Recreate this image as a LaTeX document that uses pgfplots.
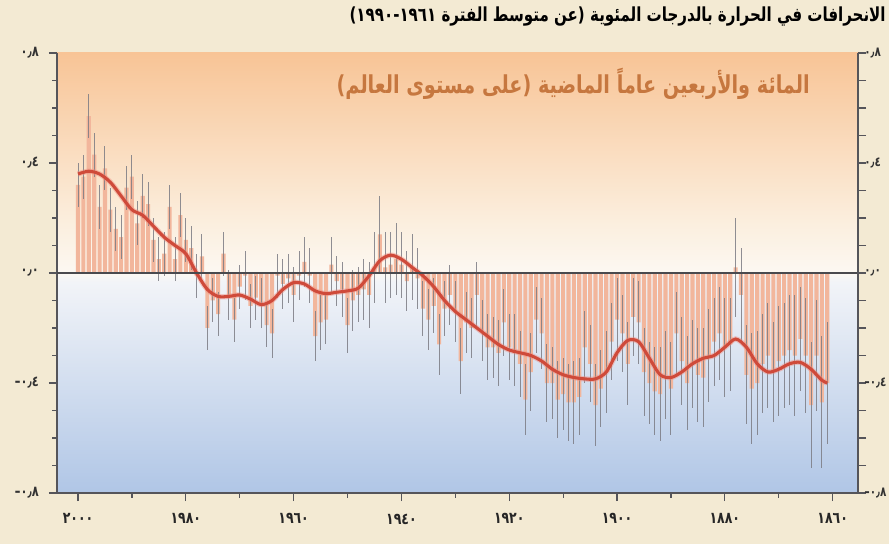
\documentclass[border=0pt]{standalone}
\usepackage{fontspec}
\usepackage{pgfplots}
\usepackage{pgfplotstable}
\pgfplotsset{compat=1.18}
\TeXXeTstate=1
\newfontfamily\arabicfont[Script=Arabic,FakeStretch=0.78]{DejaVu Sans}
\newfontfamily\latinfont{DejaVu Sans}
\newcommand{\negsign}{{\latinfont\bfseries -}}
\definecolor{pagebg}{HTML}{F3EAD3}
\definecolor{bgorange}{HTML}{F8C496}
\definecolor{bgcream}{HTML}{FBEEDD}
\definecolor{bgwhitet}{HTML}{FCF8F2}
\definecolor{bgwhiteb}{HTML}{F2F4F8}
\definecolor{bgblue}{HTML}{B0C6E6}
\definecolor{barcol}{HTML}{F2B69C}
\definecolor{whisk}{HTML}{7C7C84}
\definecolor{curvecol}{HTML}{CF4A3A}
\definecolor{halo}{HTML}{F08C80}
\definecolor{zerocol}{HTML}{4A4A4E}
\definecolor{axcol}{HTML}{55555A}
\definecolor{subtitle}{HTML}{C6773F}
\pgfdeclareverticalshading{plotbg}{100bp}{color(0bp)=(bgblue); color(25bp)=(bgblue); color(49bp)=(bgwhiteb); color(50bp)=(bgwhitet); color(56bp)=(bgcream); color(75bp)=(bgorange); color(100bp)=(bgorange)}

\pgfplotstableread{
year val err
1861 -0.40 0.22
1862 -0.47 0.24
1863 -0.30 0.20
1864 -0.48 0.23
1865 -0.30 0.21
1866 -0.24 0.19
1867 -0.30 0.22
1868 -0.28 0.20
1869 -0.30 0.19
1870 -0.32 0.20
1871 -0.36 0.18
1872 -0.30 0.19
1873 -0.33 0.18
1874 -0.40 0.19
1875 -0.42 0.20
1876 -0.37 0.18
1877 -0.08 0.17
1878 0.02 0.18
1879 -0.26 0.17
1880 -0.27 0.18
1881 -0.22 0.17
1882 -0.25 0.16
1883 -0.30 0.17
1884 -0.38 0.18
1885 -0.37 0.17
1886 -0.33 0.16
1887 -0.40 0.17
1888 -0.32 0.16
1889 -0.22 0.15
1890 -0.42 0.17
1891 -0.37 0.16
1892 -0.44 0.17
1893 -0.43 0.16
1894 -0.40 0.15
1895 -0.36 0.16
1896 -0.18 0.15
1897 -0.16 0.14
1898 -0.33 0.15
1899 -0.22 0.14
1900 -0.17 0.15
1901 -0.25 0.14
1902 -0.36 0.15
1903 -0.42 0.14
1904 -0.48 0.15
1905 -0.33 0.14
1906 -0.27 0.13
1907 -0.45 0.14
1908 -0.47 0.15
1909 -0.47 0.14
1910 -0.44 0.13
1911 -0.46 0.14
1912 -0.40 0.13
1913 -0.40 0.14
1914 -0.22 0.13
1915 -0.17 0.12
1916 -0.36 0.14
1917 -0.46 0.13
1918 -0.33 0.12
1919 -0.28 0.13
1920 -0.27 0.12
1921 -0.18 0.12
1922 -0.29 0.12
1923 -0.27 0.11
1924 -0.27 0.12
1925 -0.21 0.11
1926 -0.08 0.12
1927 -0.20 0.11
1928 -0.18 0.11
1929 -0.32 0.12
1930 -0.14 0.11
1931 -0.08 0.11
1932 -0.13 0.10
1933 -0.26 0.11
1934 -0.12 0.10
1935 -0.17 0.11
1936 -0.13 0.10
1937 -0.02 0.11
1938 0.02 0.12
1939 -0.03 0.11
1940 0.03 0.12
1941 0.05 0.13
1942 0.03 0.12
1943 0.02 0.13
1944 0.14 0.14
1945 0.02 0.13
1946 -0.08 0.12
1947 -0.06 0.11
1948 -0.08 0.10
1949 -0.10 0.11
1950 -0.19 0.10
1951 -0.06 0.10
1952 -0.03 0.09
1953 0.03 0.10
1954 -0.17 0.09
1955 -0.18 0.10
1956 -0.23 0.09
1957 -0.01 0.10
1958 0.04 0.09
1959 -0.01 0.09
1960 -0.08 0.10
1961 -0.02 0.09
1962 -0.04 0.09
1963 -0.01 0.08
1964 -0.22 0.09
1965 -0.19 0.08
1966 -0.11 0.09
1967 -0.09 0.08
1968 -0.12 0.08
1969 -0.01 0.09
1970 -0.05 0.08
1971 -0.17 0.08
1972 -0.08 0.09
1973 0.07 0.08
1974 -0.15 0.08
1975 -0.10 0.08
1976 -0.20 0.08
1977 0.06 0.08
1978 -0.01 0.08
1979 0.09 0.08
1980 0.12 0.08
1981 0.21 0.08
1982 0.05 0.08
1983 0.24 0.08
1984 0.07 0.08
1985 0.05 0.08
1986 0.12 0.08
1987 0.25 0.08
1988 0.28 0.08
1989 0.18 0.08
1990 0.35 0.08
1991 0.31 0.08
1992 0.13 0.08
1993 0.16 0.08
1994 0.23 0.08
1995 0.38 0.08
1996 0.24 0.08
1997 0.43 0.08
1998 0.57 0.08
1999 0.35 0.08
2000 0.32 0.08
}\anomaly

\pgfplotstableread{
year smooth
1861 -0.40
1862 -0.39
1864 -0.35
1866 -0.325
1868 -0.33
1870 -0.35
1872 -0.36
1874 -0.33
1876 -0.27
1878 -0.24
1880 -0.27
1882 -0.30
1884 -0.31
1886 -0.33
1888 -0.36
1890 -0.38
1892 -0.37
1894 -0.31
1896 -0.25
1898 -0.245
1900 -0.29
1902 -0.36
1904 -0.385
1906 -0.385
1908 -0.38
1910 -0.37
1912 -0.35
1914 -0.32
1916 -0.30
1918 -0.29
1920 -0.28
1922 -0.26
1924 -0.23
1926 -0.20
1928 -0.17
1930 -0.14
1932 -0.10
1934 -0.05
1936 -0.01
1938 0.02
1940 0.05
1942 0.065
1944 0.045
1946 -0.01
1948 -0.055
1950 -0.065
1952 -0.07
1954 -0.075
1956 -0.065
1958 -0.04
1960 -0.035
1962 -0.06
1964 -0.10
1966 -0.115
1968 -0.095
1970 -0.08
1972 -0.085
1974 -0.085
1976 -0.06
1978 0.00
1980 0.07
1982 0.10
1984 0.13
1986 0.17
1988 0.21
1990 0.23
1992 0.28
1994 0.33
1996 0.36
1998 0.37
2000 0.36
}\smoothed

\begin{document}
\begin{tikzpicture}[x=0.75pt,y=0.75pt]
\fill[pagebg] (0,0) rectangle (889,544);
\useasboundingbox (0,0) rectangle (889,544);
\begin{axis}[
  at={(42.75pt,38.25pt)}, anchor=south west,
  width=600.75pt, height=330pt, scale only axis,
  x dir=reverse,
  xmin=1855.3, xmax=2003.9,
  ymin=-0.8, ymax=0.8,
  axis x line*=bottom, axis y line*=left,
  axis line style={draw=axcol, line width=1pt},
  axis background/.style={shading=plotbg},
  tick align=outside,
  major tick length=6pt, minor tick length=3.5pt,
  tick style={draw=axcol, line width=0.9pt},
  xtick={1860,1880,1900,1920,1940,1960,1980,2000},
  xticklabels={{١٨٦٠},{١٨٨٠},{١٩٠٠},{١٩٢٠},{١٩٤٠},{١٩٦٠},{١٩٨٠},{٢٠٠٠}},
  minor xtick={1870,1890,1910,1930,1950,1970,1990},
  ytick={-0.8,-0.4,0,0.4,0.8},
  yticklabels={{\negsign٠٫٨},{\negsign٠٫٤},{٠٫٠},{٠٫٤},{٠٫٨}},
  minor ytick={-0.7,-0.6,-0.5,-0.3,-0.2,-0.1,0.1,0.2,0.3,0.5,0.6,0.7},
  xticklabel style={font=\arabicfont\bfseries\fontsize{12}{13}\selectfont, text=black!85, yshift=-6pt},
  yticklabel style={font=\arabicfont\bfseries\fontsize{11}{12}\selectfont, text=black!80, xshift=-4pt},
  clip=false,
]
\addplot[ybar, bar width=3.1pt, bar shift=0pt, fill=barcol, draw=none] table[x=year,y=val]{\anomaly};
\addplot[draw=none, mark=none, forget plot,
  error bars/.cd, y dir=both, y explicit, error mark=none,
  error bar style={draw=whisk, line width=0.75pt, opacity=0.85}]
  table[x=year,y=val,y error=err]{\anomaly};
\addplot[smooth, line width=4pt, draw=halo, opacity=0.45] table[x=year,y=smooth]{\smoothed};
\addplot[smooth, line width=2.3pt, draw=curvecol] table[x=year,y=smooth]{\smoothed};
\draw[zerocol, line width=2pt] (axis cs:2003.9,0) -- (axis cs:1855.3,0);
\end{axis}
\begin{axis}[
  at={(42.75pt,38.25pt)}, anchor=south west,
  width=600.75pt, height=330pt, scale only axis,
  xmin=0, xmax=1, ymin=-0.8, ymax=0.8,
  axis x line=none, axis y line*=right,
  axis line style={draw=axcol, line width=1pt},
  tick align=outside,
  major tick length=6pt, minor tick length=6pt,
  tick style={draw=axcol, line width=0.9pt},
  ytick={-0.8,-0.4,0,0.4,0.8},
  yticklabels={{\negsign٠٫٨},{\negsign٠٫٤},{٠٫٠},{٠٫٤},{٠٫٨}},
  minor ytick={-0.7,-0.6,-0.5,-0.3,-0.2,-0.1,0.1,0.2,0.3,0.5,0.6,0.7},
  yticklabel style={font=\arabicfont\bfseries\fontsize{10}{12}\selectfont, text=black!80, inner sep=0.5pt, xshift=-2pt},
]
\end{axis}
\node[anchor=east, inner sep=0pt] at (886,527) {\arabicfont\bfseries\fontsize{14.5}{18}\selectfont\beginR الانحرافات في الحرارة بالدرجات المئوية (عن متوسط الفترة \beginL١٩٦١\endL-\beginL١٩٩٠\endL)\endR};
\node[anchor=east, inner sep=0pt, text=subtitle] at (810,460) {\arabicfont\bfseries\fontsize{18.5}{22}\selectfont\beginR المائة والأربعين عاماً الماضية (على مستوى العالم)\endR};
\end{tikzpicture}
\end{document}
